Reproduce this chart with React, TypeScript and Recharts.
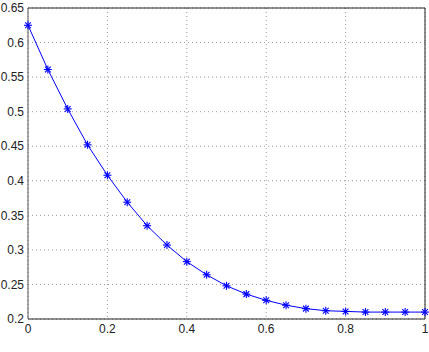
import React from "react";
import { CartesianGrid, Line, LineChart, ReferenceLine, XAxis, YAxis } from "recharts";

const xValues = [0, 0.05, 0.1, 0.15, 0.2, 0.25, 0.3, 0.35, 0.4, 0.45, 0.5, 0.55, 0.6, 0.65, 0.7, 0.75, 0.8, 0.85, 0.9, 0.95, 1];
const yValues = [0.625, 0.561, 0.504, 0.452, 0.408, 0.369, 0.335, 0.307, 0.283, 0.264, 0.248, 0.236, 0.227, 0.22, 0.215, 0.212, 0.211, 0.21, 0.21, 0.21, 0.21];
const xTicks = [0, 0.2, 0.4, 0.6, 0.8, 1];
const yTicks = [0.2, 0.25, 0.3, 0.35, 0.4, 0.45, 0.5, 0.55, 0.6, 0.65];

const data = xValues.map((x, i) => ({ x, y: yValues[i] }));

const FONT = "'Liberation Sans', Arial, sans-serif";

function Asterisk(props: any) {
  const { cx, cy } = props;
  if (cx == null || cy == null) return null;
  const r = 4;
  const d = r * 0.72;
  return (
    <g stroke="#0000ff" strokeWidth={1.1}>
      <line x1={cx - r} y1={cy} x2={cx + r} y2={cy} />
      <line x1={cx} y1={cy - r} x2={cx} y2={cy + r} />
      <line x1={cx - d} y1={cy - d} x2={cx + d} y2={cy + d} />
      <line x1={cx - d} y1={cy + d} x2={cx + d} y2={cy - d} />
    </g>
  );
}

export default function App() {
  return (
    <div style={{ position: "absolute", left: 0, top: 0, background: "#fff" }}>
      <LineChart width={429} height={352} data={data} margin={{ top: 8, right: 4, bottom: 8, left: 0 }}>
        <CartesianGrid stroke="#999" strokeDasharray="1 3" />
        <XAxis
          dataKey="x"
          type="number"
          domain={[0, 1]}
          ticks={xTicks}
          height={25}
          tickLine={false}
          tickSize={2}
          tickMargin={3}
          axisLine={{ stroke: "#222" }}
          tick={{ fill: "#222", fontSize: 12, fontFamily: FONT }}
        />
        <YAxis
          type="number"
          domain={[0.2, 0.65]}
          ticks={yTicks}
          width={28}
          tickLine={false}
          tickSize={2}
          tickMargin={2}
          axisLine={{ stroke: "#555" }}
          tick={{ fill: "#222", fontSize: 12, fontFamily: FONT }}
          interval={0}
        />
        <ReferenceLine y={0.65} stroke="#222" />
        <ReferenceLine x={1} stroke="#222" />
        <Line
          dataKey="y"
          stroke="#0000ff"
          strokeWidth={1}
          type="linear"
          dot={<Asterisk />}
          activeDot={false}
          isAnimationActive={false}
        />
      </LineChart>
    </div>
  );
}
